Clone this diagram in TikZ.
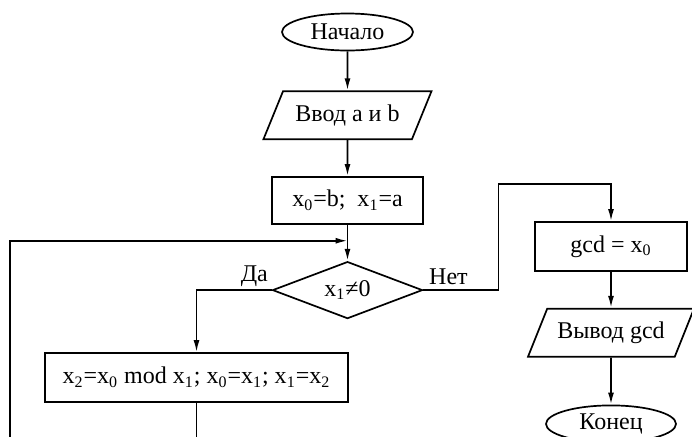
\documentclass[tikz,border=0pt]{standalone}
\usepackage{fontspec}
\setmainfont{Liberation Serif}
\usetikzlibrary {arrows.meta,
                 positioning,
                 shapes.geometric}
\tikzset{
        proc/.style={draw, rectangle, line width=0.85pt,
        minimum height=24.5pt, inner sep=2pt},
        io/.style={trapezium, trapezium left angle=57, trapezium right
                   angle=123, draw, line width=0.85pt,
                   trapezium stretches=true, minimum height=24pt,
                   inner sep=1pt},
        test/.style={diamond, draw, line width=0.85pt, aspect=2.6,
                     minimum width=75pt, minimum height=28.5pt,
                     inner sep=0pt},
        term/.style={ellipse, draw, line width=0.85pt,
                     minimum width=65.5pt, minimum height=18.5pt,
                     inner sep=0pt},
        myarrow/.style={-{Latex[length=6pt, width=3pt]}, line width=0.85pt},
 }
\newcommand{\xv}[1]{x\textsubscript{#1}}

\begin{document}
\begin{tikzpicture}[font=\fontsize{12pt}{14pt}\selectfont]
    \useasboundingbox (0,0) rectangle (346pt,-218pt);

    \node[term] (start) at (173.75pt,-16pt) {Начало};

    \node[io, below = 19.5pt of start, minimum width=84.5pt] (input)
    {Ввод a и b};

    \node[proc, below = 18pt of input, minimum width=75.5pt,
          minimum height=23.5pt] (init)
    {\xv{0}=b;\ \ \xv{1}=a};

    \node[test, below = 18pt of init] (cond)
    {\xv{1}≠0};

    \coordinate[above = 10pt of cond.north] (join);

    \node[proc, minimum width=151.5pt] (body) at (98.25pt,-188.75pt)
    {\xv{2}=\xv{0} mod \xv{1}; \xv{0}=\xv{1}; \xv{1}=\xv{2}};

    \node[proc, minimum width=76pt] (result) at (305.5pt,-123.25pt)
    {gcd = \xv{0}};

    \node[io, below = 18pt of result, minimum width=83.5pt] (output)
    {Вывод gcd};

    \node[term, below = 23.5pt of output, minimum width=65pt] (stop)
    {Конец};

    % turning points of the connectors
    \coordinate[right = 37.5pt of cond.east] (noright);
    \coordinate[above = 18.5pt of result.north] (noabove);
    \coordinate (back) at (5pt,-228pt);

    \draw[myarrow] (start) -- (input);
    \draw[myarrow] (input) -- (init);
    \draw[myarrow] (init) -- (cond);
    \draw[myarrow] (cond.west) node[above left, inner sep=1.5pt] {Да}
                   -| (body.north);
    \draw[myarrow] (cond.east) node[above right, inner sep=2.5pt] {Нет}
                   -- (noright) |- (noabove) -- (result.north);
    \draw[myarrow] (result) -- (output);
    \draw[myarrow] (output) -- (stop);
    \draw[myarrow] (body.south) |- (back) |- (join);

\end{tikzpicture}
\end{document}
